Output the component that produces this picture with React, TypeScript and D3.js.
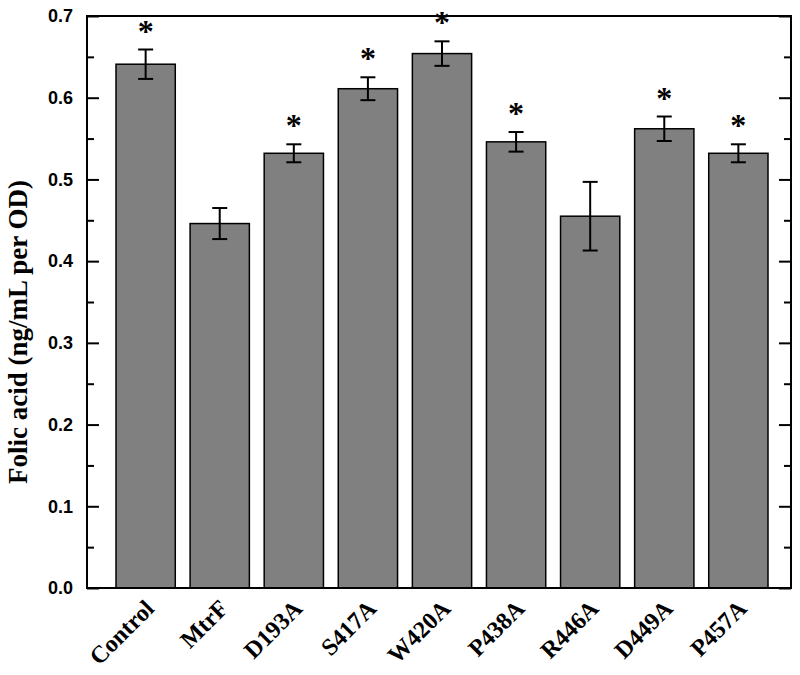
import React, { useEffect, useRef } from "react";
import * as d3 from "d3";

// strains and measured folic acid levels
const strains = ["Control", "MtrF", "D193A", "S417A", "W420A", "P438A", "R446A", "D449A", "P457A"];
const means = [0.641, 0.446, 0.532, 0.611, 0.654, 0.546, 0.455, 0.562, 0.532];
const errors = [0.018, 0.019, 0.011, 0.014, 0.015, 0.012, 0.042, 0.015, 0.011];
const significant = [true, false, true, true, true, true, false, true, true];
const majorTicks = [0, 0.1, 0.2, 0.3, 0.4, 0.5, 0.6, 0.7];
const minorTicks = [0.05, 0.15, 0.25, 0.35, 0.45, 0.55, 0.65];

const App = () => {
  const ref = useRef<SVGSVGElement>(null);

  useEffect(() => {
    const svg = d3.select(ref.current);
    svg.selectAll("*").remove();

    const left = 87;
    const right = 791;
    const top = 16;
    const bottom = 588;

    const y = d3.scaleLinear().domain([0, 0.7]).range([bottom, top]);
    const x = d3
      .scaleBand()
      .domain(strains)
      .range([116, 768])
      .paddingInner(0.2)
      .paddingOuter(0);

    const g = svg.append("g");

    // bars
    g.selectAll("rect.bar")
      .data(strains)
      .enter()
      .append("rect")
      .attr("class", "bar")
      .attr("x", (d) => x(d)!)
      .attr("width", x.bandwidth())
      .attr("y", (d, i) => y(means[i]))
      .attr("height", (d, i) => bottom - y(means[i]))
      .attr("fill", "#808080")
      .attr("stroke", "#000")
      .attr("stroke-width", 1.5);

    // error bars
    const cap = 7.5;
    const eb = g
      .selectAll("g.err")
      .data(strains)
      .enter()
      .append("g")
      .attr("class", "err")
      .attr("stroke", "#000")
      .attr("stroke-width", 2);
    const cx = (d: string) => x(d)! + x.bandwidth() / 2;
    eb.append("line")
      .attr("x1", cx)
      .attr("x2", cx)
      .attr("y1", (d, i) => y(means[i] + errors[i]))
      .attr("y2", (d, i) => y(means[i] - errors[i]));
    eb.append("line")
      .attr("x1", (d) => cx(d) - cap)
      .attr("x2", (d) => cx(d) + cap)
      .attr("y1", (d, i) => y(means[i] + errors[i]))
      .attr("y2", (d, i) => y(means[i] + errors[i]));
    eb.append("line")
      .attr("x1", (d) => cx(d) - cap)
      .attr("x2", (d) => cx(d) + cap)
      .attr("y1", (d, i) => y(means[i] - errors[i]))
      .attr("y2", (d, i) => y(means[i] - errors[i]));

    // significance stars
    g.selectAll("text.star")
      .data(strains.filter((d, i) => significant[i]))
      .enter()
      .append("text")
      .attr("class", "star")
      .attr("x", cx)
      .attr("y", (d) => {
        const i = strains.indexOf(d);
        return y(means[i] + errors[i]) - 8;
      })
      .attr("text-anchor", "middle")
      .style("font-family", "'Liberation Serif', 'Times New Roman', serif")
      .style("font-weight", "bold")
      .style("font-size", "32px")
      .text("*");

    // frame
    g.append("rect")
      .attr("x", left)
      .attr("y", top)
      .attr("width", right - left)
      .attr("height", bottom - top)
      .attr("fill", "none")
      .attr("stroke", "#000")
      .attr("stroke-width", 2);

    // left axis ticks (inward)
    const yAxis = d3
      .axisLeft(y)
      .tickValues(majorTicks)
      .tickSize(-12)
      .tickPadding(14)
      .tickFormat(d3.format(".1f"));
    const ay = g.append("g").attr("transform", `translate(${left},0)`).call(yAxis);
    ay.select(".domain").remove();
    ay.selectAll("line").attr("stroke-width", 2);
    ay.selectAll("text")
      .style("font-family", "'Liberation Sans', Arial, sans-serif")
      .style("font-weight", "bold")
      .style("font-size", "18px")
      .attr("fill", "#000");
    g.append("g")
      .attr("transform", `translate(${left},0)`)
      .call(d3.axisLeft(y).tickValues(minorTicks).tickSize(-7).tickFormat(() => ""))
      .call((s) => s.select(".domain").remove())
      .selectAll("line")
      .attr("stroke-width", 2);

    // right axis ticks (inward)
    g.append("g")
      .attr("transform", `translate(${right},0)`)
      .call(d3.axisRight(y).tickValues(majorTicks).tickSize(-12).tickFormat(() => ""))
      .call((s) => s.select(".domain").remove())
      .selectAll("line")
      .attr("stroke-width", 2);
    g.append("g")
      .attr("transform", `translate(${right},0)`)
      .call(d3.axisRight(y).tickValues(minorTicks).tickSize(-7).tickFormat(() => ""))
      .call((s) => s.select(".domain").remove())
      .selectAll("line")
      .attr("stroke-width", 2);

    // category labels, rotated
    g.selectAll("text.cat")
      .data(strains)
      .enter()
      .append("text")
      .attr("class", "cat")
      .attr("transform", (d) => `translate(${cx(d) + 4},${bottom + 16}) rotate(-45)`)
      .attr("text-anchor", "end")
      .attr("dy", "0.35em")
      .style("font-family", "'Liberation Serif', 'Times New Roman', serif")
      .style("font-weight", "bold")
      .style("font-size", "24px")
      .text((d) => d);

    // y title
    g.append("text")
      .attr("transform", `translate(27,${(top + bottom) / 2 + 30}) rotate(-90)`)
      .attr("text-anchor", "middle")
      .style("font-family", "'Liberation Serif', 'Times New Roman', serif")
      .style("font-weight", "bold")
      .style("font-size", "27px")
      .text("Folic acid (ng/mL per OD)");
  }, []);

  return (
    <svg
      ref={ref}
      width={800}
      height={675}
      style={{ position: "absolute", left: 0, top: 0, background: "#fff" }}
    ></svg>
  );
};

export default App;
